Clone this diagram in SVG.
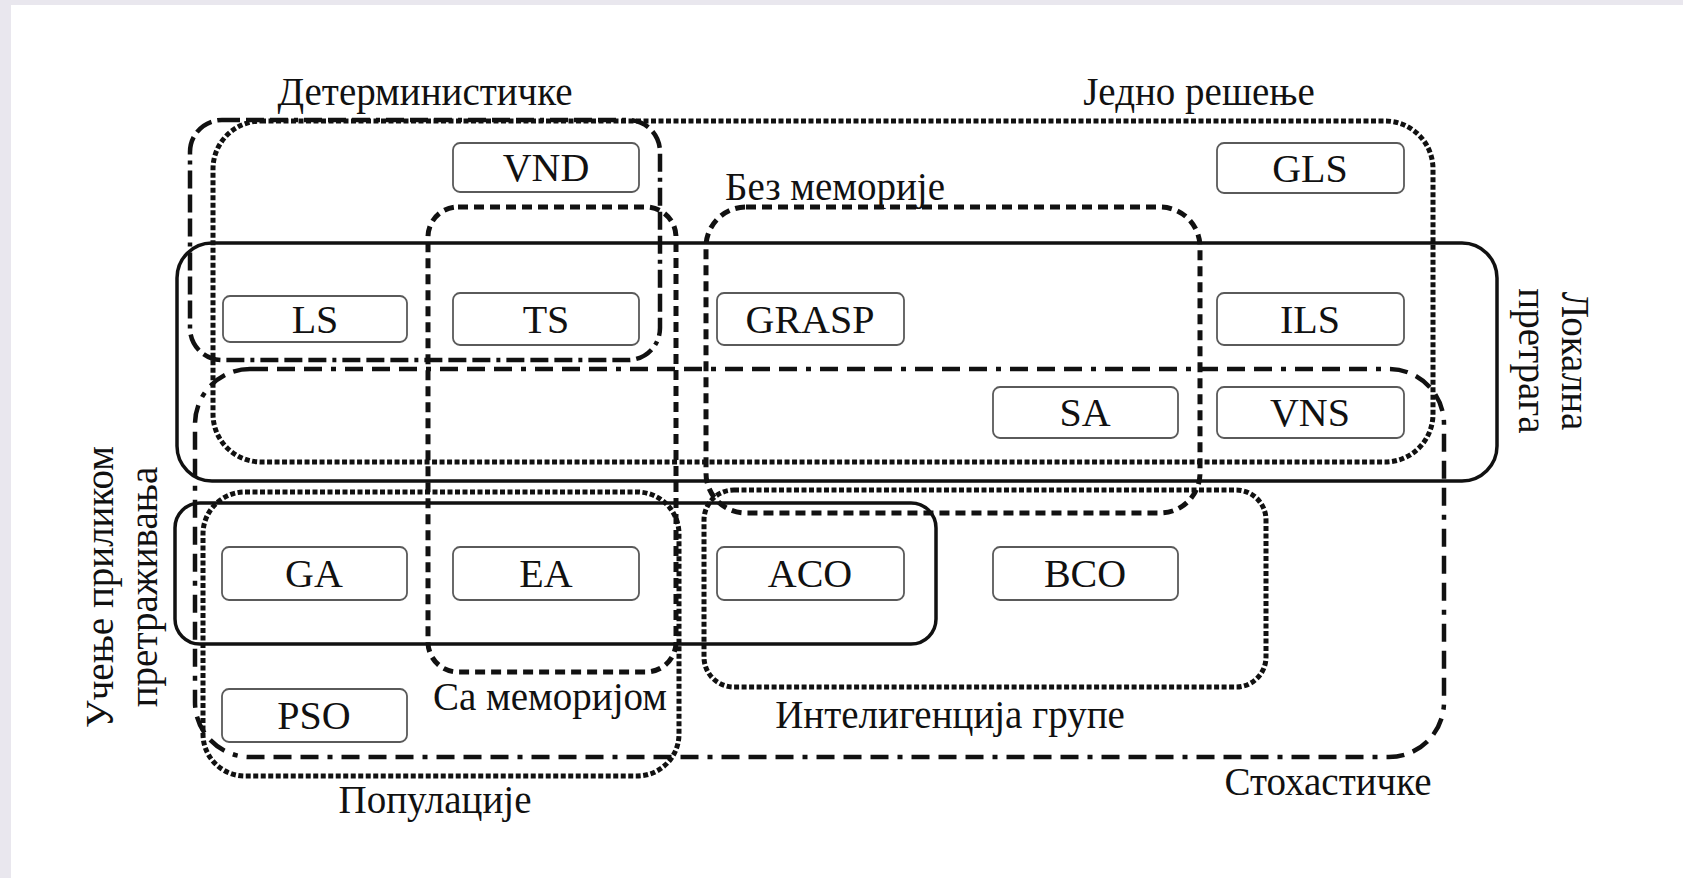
<svg xmlns="http://www.w3.org/2000/svg" width="1683" height="878" viewBox="0 0 1683 878">
<style>
.solid{fill:none;stroke:#111;stroke-width:3.5}
.dd1{fill:none;stroke:#111;stroke-width:4.5;stroke-dasharray:18 6 18 6 18 6 4 6}
.dd2{fill:none;stroke:#111;stroke-width:4.5;stroke-dasharray:18 9 18 9 18 9 5 9}
.dot{fill:none;stroke:#111;stroke-width:5;stroke-dasharray:5 2.5}
.dash{fill:none;stroke:#111;stroke-width:5;stroke-dasharray:10 6}
.box rect{fill:#fff;stroke:#5a5a5a;stroke-width:1.8}
.box text{font-family:"Liberation Serif","Times New Roman",serif;font-size:40px;text-anchor:middle;fill:#111}
.lbl{font-family:"Liberation Serif","Times New Roman",serif;font-size:39px;fill:#111;text-anchor:middle}
</style>
<rect x="0" y="0" width="1683" height="878" fill="#e9e7ee"/>
<rect x="11" y="5" width="1672" height="873" fill="#fff"/>

<g id="regions">
  <g id="reg-jedno">
    <rect class="dot" x="213" y="121" width="1220" height="341" rx="48"/>
    <text class="lbl" x="1199" y="105">Једно решење</text>
  </g>
  <g id="reg-det">
    <rect class="dd1" x="190" y="120" width="470" height="240" rx="32"/>
    <text class="lbl" x="425" y="105">Детерминистичке</text>
  </g>
  <g id="reg-stoh">
    <rect class="dd2" x="195" y="369" width="1249" height="388" rx="55"/>
    <text class="lbl" x="1328" y="795">Стохастичке</text>
  </g>
  <g id="reg-bez">
    <rect class="dash" x="706" y="207" width="494" height="306" rx="40"/>
    <text class="lbl" x="835" y="200">Без меморије</text>
  </g>
  <g id="reg-sa">
    <rect class="dash" x="428" y="207" width="248" height="465" rx="30"/>
    <text class="lbl" x="550" y="710">Са меморијом</text>
  </g>
  <g id="reg-pop">
    <rect class="dot" x="203" y="492" width="476" height="284" rx="42"/>
    <text class="lbl" x="435" y="813">Популације</text>
  </g>
  <g id="reg-int">
    <rect class="dot" x="704" y="490" width="562" height="197" rx="30"/>
    <text class="lbl" x="950" y="728">Интелигенција групе</text>
  </g>
  <g id="reg-lok">
    <rect class="solid" x="177" y="243" width="1320" height="238" rx="35"/>
    <text class="lbl" transform="translate(1562,361) rotate(90)"><tspan x="0" y="0">Локална</tspan><tspan x="0" y="43">претрага</tspan></text>
  </g>
  <g id="reg-ucenje">
    <rect class="solid" x="175" y="503" width="761" height="141" rx="25"/>
    <text class="lbl" transform="translate(113,587) rotate(-90)"><tspan x="0" y="0">Учење приликом</tspan><tspan x="0" y="44">претраживања</tspan></text>
  </g>
</g>

<g id="nodes">
  <g id="n-vnd" class="box"><rect x="453" y="143" width="186" height="49" rx="7"/><text x="546" y="181">VND</text></g>
  <g id="n-gls" class="box"><rect x="1217" y="143" width="187" height="50" rx="7"/><text x="1310" y="182">GLS</text></g>
  <g id="n-ls" class="box"><rect x="223" y="296" width="184" height="46" rx="7"/><text x="315" y="333">LS</text></g>
  <g id="n-ts" class="box"><rect x="453" y="293" width="186" height="52" rx="7"/><text x="546" y="333">TS</text></g>
  <g id="n-grasp" class="box"><rect x="717" y="293" width="187" height="52" rx="7"/><text x="810" y="333">GRASP</text></g>
  <g id="n-ils" class="box"><rect x="1217" y="293" width="187" height="52" rx="7"/><text x="1310" y="333">ILS</text></g>
  <g id="n-sa" class="box"><rect x="993" y="387" width="185" height="51" rx="7"/><text x="1085" y="426">SA</text></g>
  <g id="n-vns" class="box"><rect x="1217" y="387" width="187" height="51" rx="7"/><text x="1310" y="426">VNS</text></g>
  <g id="n-ga" class="box"><rect x="222" y="547" width="185" height="53" rx="7"/><text x="314" y="587">GA</text></g>
  <g id="n-ea" class="box"><rect x="453" y="547" width="186" height="53" rx="7"/><text x="546" y="587">EA</text></g>
  <g id="n-aco" class="box"><rect x="717" y="547" width="187" height="53" rx="7"/><text x="810" y="587">ACO</text></g>
  <g id="n-bco" class="box"><rect x="993" y="547" width="185" height="53" rx="7"/><text x="1085" y="587">BCO</text></g>
  <g id="n-pso" class="box"><rect x="222" y="689" width="185" height="53" rx="7"/><text x="314" y="729">PSO</text></g>
</g>
</svg>
